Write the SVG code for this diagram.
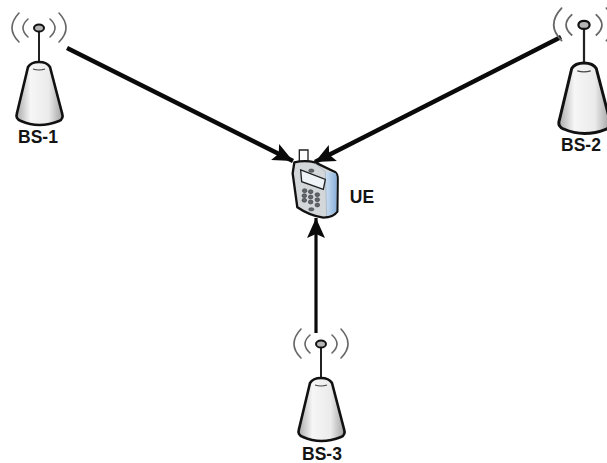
<svg xmlns="http://www.w3.org/2000/svg" width="607" height="463" viewBox="0 0 607 463">
<style>
text{font-family:"Liberation Sans",Arial,sans-serif;font-weight:bold;font-size:17.5px;fill:#141414;text-anchor:middle}
.wave{fill:none;stroke:#666;stroke-width:1.6;stroke-linecap:round}
.mast{fill:none;stroke:#222;stroke-width:2}
.tip{fill:#b5b5b5;stroke:#111;stroke-width:2}
.body{fill:url(#cone);stroke:#111;stroke-width:2.6;stroke-linejoin:round}
.inner{fill:none;stroke:#444;stroke-width:1.2}
.conn{fill:none;stroke:#0a0a0a;stroke-linecap:butt}
.k{fill:#5f656b;stroke:#2a2a2a;stroke-width:1.5}
</style>
<defs>
<linearGradient id="cone" x1="0" x2="1" y1="0" y2="0">
<stop offset="0" stop-color="#a8a8a8"/><stop offset=".3" stop-color="#f6f6f6"/><stop offset=".7" stop-color="#ebebeb"/><stop offset="1" stop-color="#a0a0a0"/>
</linearGradient>
<linearGradient id="side" x1="0" x2="1" y1="0" y2="0">
<stop offset="0" stop-color="#cfe0f2"/><stop offset="1" stop-color="#8ab0da"/>
</linearGradient>
<marker id="ah" markerUnits="userSpaceOnUse" markerWidth="24" markerHeight="20" refX="20" refY="9" orient="auto">
<path d="M0 0 L20 9 L0 18 L4 9 Z" fill="#0a0a0a"/>
</marker>
<g id="tower">
<path class="wave" d="M-20 -16 Q-34 -1 -20 13"/>
<path class="wave" d="M-11 -10 Q-21 -1 -11 8"/>
<path class="wave" d="M11 -10 Q21 -1 11 8"/>
<path class="wave" d="M20 -16 Q34 -1 20 13"/>
<path class="mast" d="M0 2 V35"/>
<path class="body" d="M-11 38 Q-8 33 0 33 Q8 33 11 38 L23 84 Q25 90 20 92 Q0 100 -18 92 Q-24 90 -22 84 Z"/>
<path class="inner" d="M-6 40 Q0 42 6 40"/>
<ellipse class="tip" cx="0" cy="-1" rx="5" ry="3.6"/>
</g>
</defs>
<g id="connectors">
<line class="conn" stroke-width="4.5" x1="67" y1="48" x2="293" y2="161" marker-end="url(#ah)"/>
<line class="conn" stroke-width="4.5" x1="561" y1="37" x2="315" y2="162" marker-end="url(#ah)"/>
<line class="conn" stroke-width="3.2" x1="316" y1="333" x2="316" y2="218" marker-end="url(#ah)"/>
</g>
<g id="bs1"><use href="#tower" x="39" y="29"/><text x="38" y="143">BS-1</text></g>
<g id="bs2"><use href="#tower" transform="translate(584 26) scale(1.12)"/><text x="581" y="151">BS-2</text></g>
<g id="bs3"><use href="#tower" x="321" y="345"/><text x="322" y="460">BS-3</text></g>
<g id="ue">
<g transform="translate(260 130) scale(.3333)">
<path d="M118 97 V60 H144 V97" fill="#fff" stroke="#222" stroke-width="4"/>
<path d="M103 97 Q135 90 165 97 L225 126 Q234 132 233 150 L232 245 Q220 262 190 263 Q150 258 112 232 L98 130 Z" fill="#d4d7da" stroke="#111" stroke-width="7" stroke-linejoin="round"/>
<path d="M196 125 L226 129 Q231 134 230 150 L229 244 Q218 256 200 258 Z" fill="url(#side)"/>
<path d="M165 100 L196 125 L200 258" fill="none" stroke="#9ab" stroke-width="2"/>
<path d="M122 120 L196 148 L190 178 L125 155 Z" fill="#eef3f7" stroke="#222" stroke-width="4"/>
<ellipse class="k" cx="154" cy="122" rx="8" ry="5"/>
<ellipse class="k" cx="134" cy="182" rx="7" ry="6"/><ellipse class="k" cx="152" cy="185" rx="7" ry="6"/><ellipse class="k" cx="172" cy="194" rx="7" ry="6"/>
<ellipse class="k" cx="133" cy="197" rx="7" ry="6"/><ellipse class="k" cx="152" cy="201" rx="7" ry="6"/><ellipse class="k" cx="172" cy="209" rx="7" ry="6"/>
<ellipse class="k" cx="133" cy="211" rx="7" ry="6"/><ellipse class="k" cx="152" cy="216" rx="7" ry="6"/><ellipse class="k" cx="172" cy="225" rx="7" ry="6"/>
<ellipse class="k" cx="154" cy="238" rx="8" ry="5"/>
</g>
<text x="362" y="203">UE</text>
</g>
</svg>
